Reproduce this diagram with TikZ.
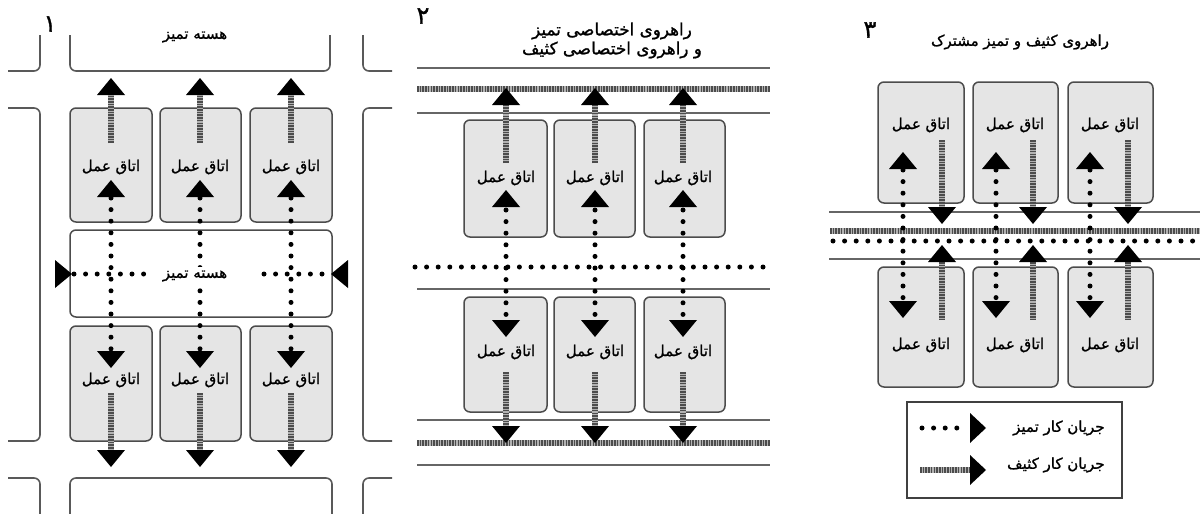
\documentclass[tikz,border=0pt]{standalone}
\usepackage{fontspec}
\newfontfamily\persfont[Script=Arabic,FakeBold=1.2]{DejaVu Sans}
\TeXXeTstate=1
\newcommand\ptxt[1]{\beginR #1\endR}
\newcommand\tipUp[2]{\fill (#1,#2) -- ++(-14,17) -- ++(28,0) -- cycle;}
\newcommand\tipDown[2]{\fill (#1,#2) -- ++(-14,-17) -- ++(28,0) -- cycle;}
\newcommand\tipRight[2]{\fill (#1,#2) -- ++(-17,-14) -- ++(0,28) -- cycle;}
\newcommand\tipLeft[2]{\fill (#1,#2) -- ++(17,-14) -- ++(0,28) -- cycle;}
\begin{document}
\begin{tikzpicture}[x=0.5pt,y=-0.5pt,
  room/.style={draw=black!70, fill=black!10, rounded corners=3pt, line width=0.75pt},
  core/.style={draw=black!70, fill=white, rounded corners=3pt, line width=0.75pt},
  wall/.style={draw=black!65, line width=0.8pt, rounded corners=3pt},
  rule/.style={draw=black!60, line width=1pt},
  clean/.style={line width=2.5pt, dash pattern=on 0pt off 5.8pt, line cap=round},
  dirty/.style={draw=black!70, line width=2.6pt, dash pattern=on 0.8pt off 0.55pt,
     preaction={draw=black!30, line width=2.6pt, solid}},
  lbl/.style={font=\persfont\fontsize{7.5pt}{9pt}\selectfont, inner sep=0pt},
  ttl/.style={font=\persfont\fontsize{8.4pt}{10pt}\selectfont, inner sep=0pt},
  num/.style={font=\persfont\fontsize{12pt}{14pt}\selectfont, inner sep=0pt}]
\useasboundingbox (0,0) rectangle (1200,514);

% ================= Panel 1 =================
\node[num] (n1) at (50,24) {\ptxt{۱}};
\draw[wall] (40,35) -- (40,71) -- (8,71);
\draw[wall] (70,35) -- (70,71) -- (330,71) -- (330,35);
\draw[wall] (363,35) -- (363,71) -- (392,71);
\draw[wall] (8,108) -- (40,108) -- (40,441) -- (8,441);
\draw[wall] (392,108) -- (363,108) -- (363,441) -- (392,441);
\draw[wall] (8,478) -- (40,478) -- (40,514);
\draw[wall] (70,514) -- (70,478) -- (332,478) -- (332,514);
\draw[wall] (392,478) -- (363,478) -- (363,514);
\node[lbl] (topcore) at (195,37) {\ptxt{هسته تمیز}};

\foreach \a/\b/\c in {70/152/111,160/241/200,250/332/291}{
  \draw[room] (\a,108) rectangle (\b,222);
  \draw[room] (\a,326) rectangle (\b,441);
}
\draw[core] (70,230) rectangle (332,317);
\foreach \c in {111,200,291}{
  \node[lbl] at (\c,167) {\ptxt{اتاق عمل}};
  \node[lbl] at (\c,380) {\ptxt{اتاق عمل}};
  \draw[dirty] (\c,143) -- (\c,95);
  \tipUp{\c}{78}
  \draw[clean] (\c,198) -- (\c,352);
  \tipUp{\c}{180}
  \tipDown{\c}{368}
  \draw[dirty] (\c,393) -- (\c,450);
  \tipDown{\c}{467}
}
\draw[clean] (74,274) -- (146,274);
\tipRight{72}{274}
\draw[clean] (264,274) -- (328,274);
\tipLeft{331}{274}
\node[lbl, fill=white, inner sep=2pt] (midcore) at (195,276) {\ptxt{هسته تمیز}};

% ================= Panel 2 =================
\node[num] (n2) at (423,16) {\ptxt{۲}};
\node[ttl] (t2a) at (612,31) {\ptxt{راهروی اختصاصی تمیز}};
\node[ttl] (t2b) at (612,50) {\ptxt{و راهروی اختصاصی کثیف}};
\foreach \y in {68,113,289,420,465}{\draw[rule] (417,\y) -- (770,\y);}
\draw[dirty] (417,89) -- (770,89);
\draw[dirty] (417,443) -- (770,443);
\draw[clean] (415,267) -- (765,267);
\foreach \a/\b in {464/547,554/635,644/725}{
  \draw[room] (\a,120) rectangle (\b,237);
  \draw[room] (\a,297) rectangle (\b,412);
}
\foreach \c in {506,595,683}{
  \node[lbl] at (\c,178) {\ptxt{اتاق عمل}};
  \node[lbl] at (\c,352) {\ptxt{اتاق عمل}};
  \draw[dirty] (\c,163) -- (\c,105);
  \tipUp{\c}{88}
  \draw[clean] (\c,210) -- (\c,320);
  \tipUp{\c}{190}
  \tipDown{\c}{337}
  \draw[dirty] (\c,372) -- (\c,428);
  \tipDown{\c}{443}
}

% ================= Panel 3 =================
\node[num] (n3) at (870,30) {\ptxt{۳}};
\node[lbl] (t3) at (1020,42) {\ptxt{راهروی کثیف و تمیز مشترک}};
\draw[rule] (829,212) -- (1200,212);
\draw[rule] (829,259) -- (1200,259);
\draw[dirty] (830,231) -- (1200,231);
\draw[clean] (833,241) -- (1200,241);
\foreach \a/\b in {878/964,973/1058,1068/1153}{
  \draw[room] (\a,82) rectangle (\b,203);
  \draw[room] (\a,267) rectangle (\b,387);
}
\foreach \c/\d/\m in {903/942/921,996/1033/1015,1090/1128/1110}{
  \node[lbl] at (\m,125) {\ptxt{اتاق عمل}};
  \node[lbl] at (\m,345) {\ptxt{اتاق عمل}};
  \draw[clean] (\c,170) -- (\c,300);
  \tipUp{\c}{152}
  \tipDown{\c}{318}
  \draw[dirty] (\d,140) -- (\d,208);
  \tipDown{\d}{224}
  \draw[dirty] (\d,262) -- (\d,320);
  \tipUp{\d}{245}
}
% legend
\draw[draw=black!75, line width=0.8pt] (907,402) rectangle (1122,498);
\draw[clean] (922,428) -- (962,428);
\fill (986,428) -- (970,413) -- (970,443) -- cycle;
\node[lbl, anchor=east] (leg1) at (1105,428) {\ptxt{جریان کار تمیز}};
\draw[dirty] (920,470) -- (970,470);
\fill (986,470) -- (970,455) -- (970,485) -- cycle;
\node[lbl, anchor=east] (leg2) at (1105,465) {\ptxt{جریان کار کثیف}};
\end{tikzpicture}
\end{document}
